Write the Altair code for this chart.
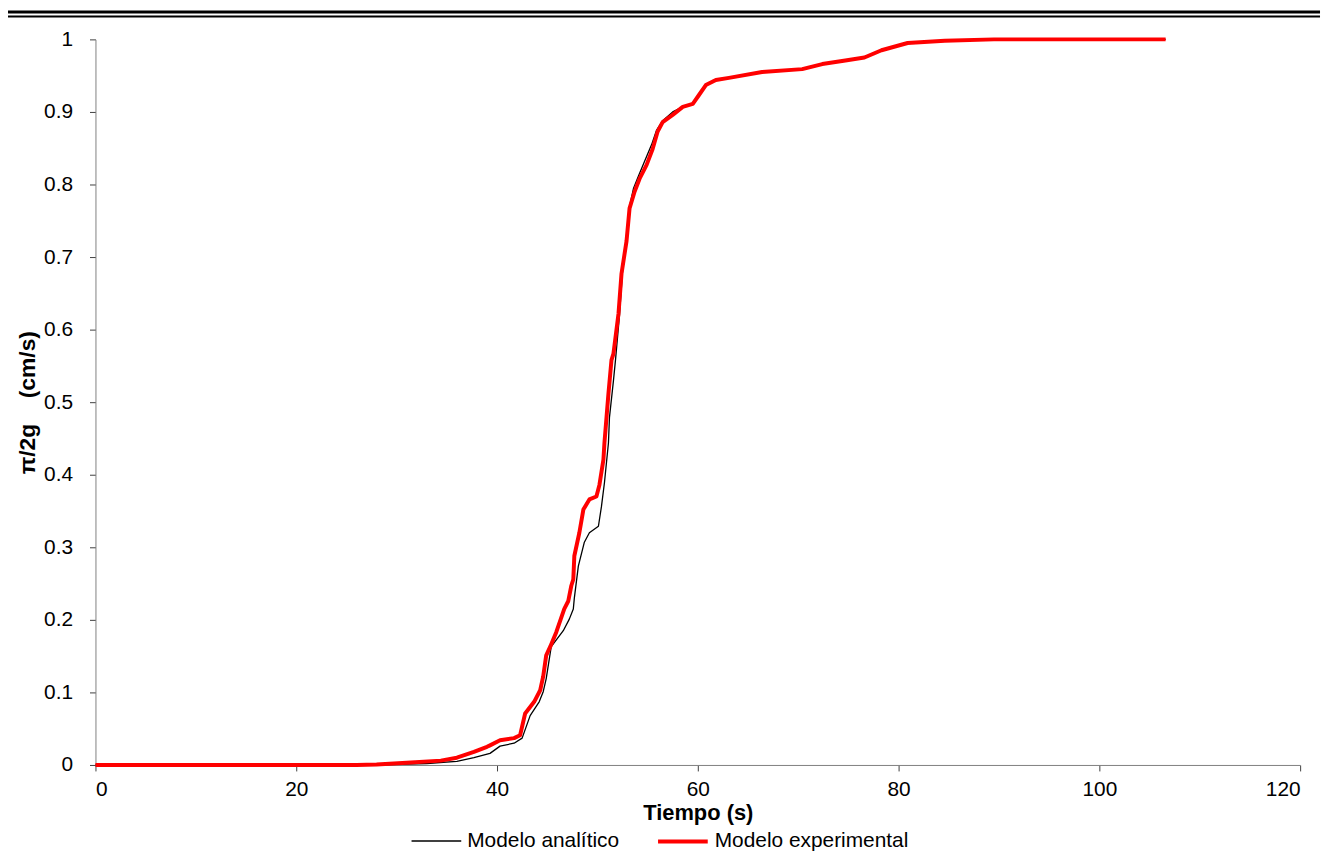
import altair as alt
import pandas as pd

# Modelo experimental (red)
exp_t = [0, 10, 20, 26, 28, 31, 34.4, 36, 37.7, 39.0, 39.3, 40.3, 41.7, 42.3, 42.8, 43.7, 44.3, 44.6,
         44.9, 45.3, 45.9, 46.7, 47.1, 47.4, 47.6, 47.7, 48.2, 48.6, 49.2, 49.9, 50.2, 50.6, 50.7,
         51.1, 51.4, 51.6, 52.1, 52.4, 52.9, 53.2, 53.7, 54.2, 54.9, 55.5, 56.0, 56.5, 57.5, 58.5,
         59.5, 60.1, 60.8, 61.8, 63.1, 66.4, 70.4, 72.4, 74.7, 76.6, 78.3, 80.9, 84.6, 89.5, 106.6]
exp_v = [0, 0, 0, 0, 0.0005, 0.003, 0.006, 0.01, 0.018, 0.025, 0.027, 0.034, 0.037, 0.041, 0.071,
         0.087, 0.103, 0.122, 0.151, 0.163, 0.183, 0.215, 0.226, 0.247, 0.256, 0.288, 0.320, 0.352,
         0.366, 0.370, 0.386, 0.421, 0.444, 0.512, 0.558, 0.567, 0.622, 0.677, 0.722, 0.767, 0.790,
         0.808, 0.827, 0.849, 0.873, 0.886, 0.896, 0.907, 0.911, 0.923, 0.937, 0.944, 0.947, 0.955,
         0.959, 0.966, 0.971, 0.975, 0.985, 0.995, 0.998, 1.0, 1.0]

# Modelo analítico (black)
ana_t = [0, 10, 20, 28, 33, 36, 37.7, 39.3, 40.3, 41.7, 42.5, 43.3, 44.2, 44.6, 44.9, 45.4, 46.6,
         47.2, 47.6, 47.7, 48.1, 48.7, 49.2, 50.1, 50.4, 50.7, 51.1, 51.2, 51.6, 51.8, 52.2, 52.5,
         52.9, 53.2, 53.6, 54.1, 54.7, 55.4, 55.9, 56.5, 57.5, 58.5, 59.5, 60.1, 60.8, 61.8, 63.1,
         66.4, 70.4, 72.4, 74.7, 76.6, 78.3, 80.9, 84.6, 89.5, 106.6]
ana_v = [0, 0, 0, 0, 0.002, 0.005, 0.01, 0.016, 0.026, 0.030, 0.037, 0.068, 0.087, 0.101, 0.119,
         0.163, 0.185, 0.201, 0.215, 0.23, 0.274, 0.307, 0.320, 0.329, 0.356, 0.389, 0.444, 0.479,
         0.530, 0.558, 0.62, 0.68, 0.73, 0.77, 0.795, 0.812, 0.832, 0.855, 0.875, 0.888, 0.9, 0.907,
         0.911, 0.923, 0.937, 0.944, 0.947, 0.955, 0.959, 0.966, 0.971, 0.975, 0.985, 0.995, 0.998,
         1.0, 1.0]

series_names = ["Modelo analítico", "Modelo experimental"]
series_colors = ["#000000", "#ff0000"]
series_widths = [1.3, 4]
x_ticks = [0, 20, 40, 60, 80, 100, 120]
y_ticks = [0, 0.1, 0.2, 0.3, 0.4, 0.5, 0.6, 0.7, 0.8, 0.9, 1.0]

rows = []
for i, (t, v) in enumerate(zip(ana_t, ana_v)):
    rows.append({"t": t, "v": v, "serie": series_names[0], "o": i})
for i, (t, v) in enumerate(zip(exp_t, exp_v)):
    rows.append({"t": t, "v": v, "serie": series_names[1], "o": i})
df = pd.DataFrame(rows)

FONT = "Liberation Sans"
NB = "\u00a0"

lines = alt.Chart(df).mark_line(strokeJoin="round").encode(
    x=alt.X("t:Q", scale=alt.Scale(domain=[0, 120], nice=False),
            axis=alt.Axis(values=x_ticks, title="Tiempo (s)", grid=False, tickSize=6,
                          labelFontSize=21, labelPadding=8, titleFontSize=22,
                          titleFontWeight="bold", titlePadding=3, labelFont=FONT,
                          titleFont=FONT, labelColor="#000", titleColor="#000",
                          domainColor="#808080", tickColor="#404040")),
    y=alt.Y("v:Q", scale=alt.Scale(domain=[0, 1], nice=False),
            axis=alt.Axis(values=y_ticks, format=".1~f", title="π/2g" + NB * 4 + "(cm/s)",
                          grid=False, tickSize=6, labelFontSize=21, labelPadding=17,
                          titleFontSize=23, titleFontWeight="bold", titlePadding=4,
                          labelFont=FONT, titleFont=FONT, labelColor="#000", titleColor="#000",
                          domainColor="#808080", tickColor="#404040")),
    color=alt.Color("serie:N", scale=alt.Scale(domain=series_names, range=series_colors),
                    legend=alt.Legend(title=None)),
    strokeWidth=alt.StrokeWidth("serie:N", scale=alt.Scale(domain=series_names, range=series_widths),
                                legend=alt.Legend(title=None)),
    order="o:Q",
)

rule_df = pd.DataFrame({"k": [0]})
top1 = alt.Chart(rule_df).mark_rule(color="#000", strokeWidth=3).encode(
    x=alt.value(-88), x2=alt.value(1232), y=alt.value(-27.5))
top2 = alt.Chart(rule_df).mark_rule(color="#000", strokeWidth=2).encode(
    x=alt.value(-88), x2=alt.value(1232), y=alt.value(-23))

chart = alt.layer(lines, top1, top2).properties(
    width=1212, height=730,
    padding={"left": 88, "top": 29, "right": 23, "bottom": 87},
    autosize=alt.AutoSizeParams(type="none"),
).configure_view(stroke=None).configure_legend(
    orient="none", legendX=317, legendY=780, direction="horizontal",
    symbolType="stroke", symbolSize=2500, labelFontSize=21, labelFont=FONT,
    labelColor="#000", columnPadding=31, labelOffset=5, labelLimit=400,
    symbolStrokeColor="#000"
)

chart.save("out.html", embed_options={"renderer": "svg", "actions": False})
